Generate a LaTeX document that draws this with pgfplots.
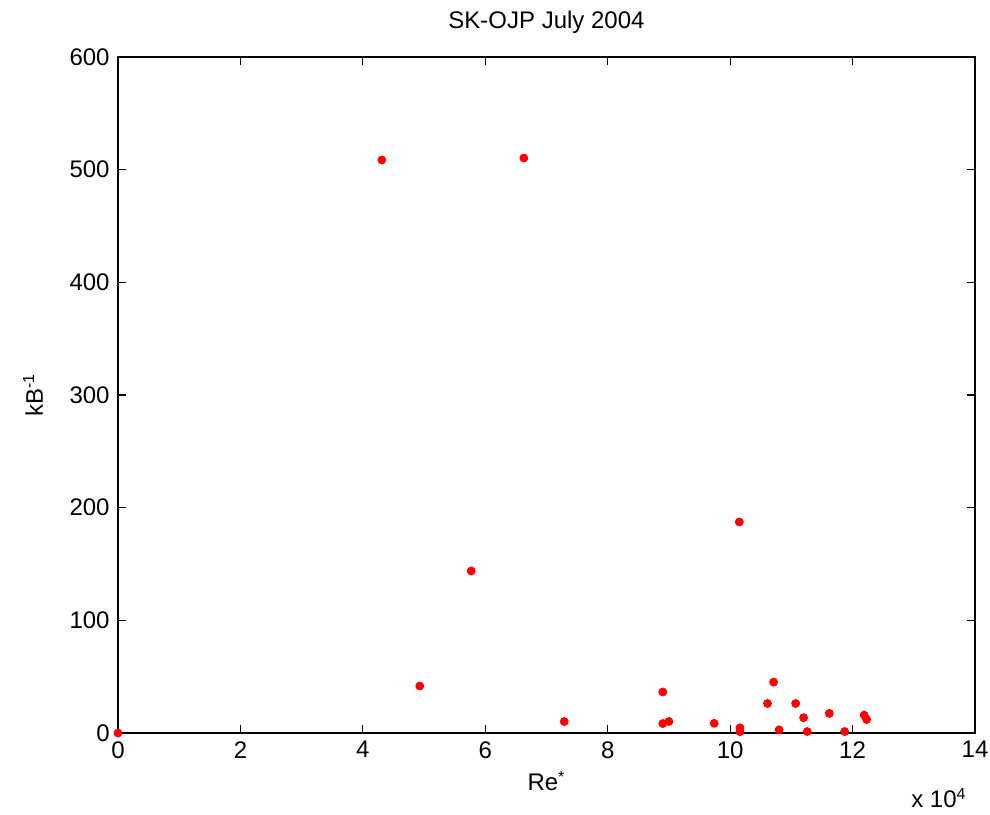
\documentclass[border=0pt]{standalone}
\usepackage{fontspec}
\setmainfont{Liberation Sans}
\usepackage{pgfplots}
\pgfplotsset{compat=1.18}
\begin{document}
\begin{tikzpicture}
\fontsize{12}{14}\selectfont
\path[use as bounding box] (-59pt,-40.5pt) rectangle (436pt,366.5pt);
\begin{axis}[
  at={(0,0)}, anchor=south west,
  scale only axis,
  width=428.5pt, height=338pt,
  xmin=0, xmax=14, ymin=0, ymax=600,
  xtick={0,2,...,14}, ytick={0,100,...,600},
  tick align=inside,
  major tick length=4pt,
  xtick pos=both, ytick pos=both,
  axis line style={line width=0.7pt},
  tick style={line width=0.6pt, black},
  /pgf/number format/assume math mode=true,
  ticklabel style={font=\fontsize{12}{14}\selectfont},
  title={SK-OJP July 2004},
  title style={font=\fontsize{12}{14}\selectfont, at={(axis description cs:0.5,1)}, anchor=center, yshift=11.5pt},
  xlabel={Re\textsuperscript{*}},
  xlabel style={font=\fontsize{12}{14}\selectfont, at={(axis description cs:0.5,0)}, anchor=center, yshift=-24pt},
  ylabel={kB\textsuperscript{-1}},
  ylabel style={font=\fontsize{12}{14}\selectfont, at={(axis description cs:-0.0992,0.5)}, anchor=center},
  clip=false,
]
\addplot[only marks, mark=*, mark size=2pt, color=red, mark options={draw=red, fill=red}] coordinates {
(0,0)
(4.31,508.6)
(6.63,510.3)
(4.93,41.7)
(5.77,143.8)
(7.29,10.2)
(8.90,36.4)
(8.90,8.4)
(9.00,10.2)
(9.74,8.6)
(10.15,187.3)
(10.16,4.6)
(10.16,1.2)
(10.61,26.2)
(10.71,45.2)
(10.80,2.8)
(11.07,26.2)
(11.20,13.6)
(11.26,1.3)
(11.62,17.4)
(11.87,1.3)
(12.19,15.9)
(12.23,12.0)
};
\node[anchor=east, font=\fontsize{12}{14}\selectfont] at (rel axis cs:1,0) [yshift=-32.5pt] {x 10\textsuperscript{4}};
\end{axis}
\end{tikzpicture}
\end{document}
